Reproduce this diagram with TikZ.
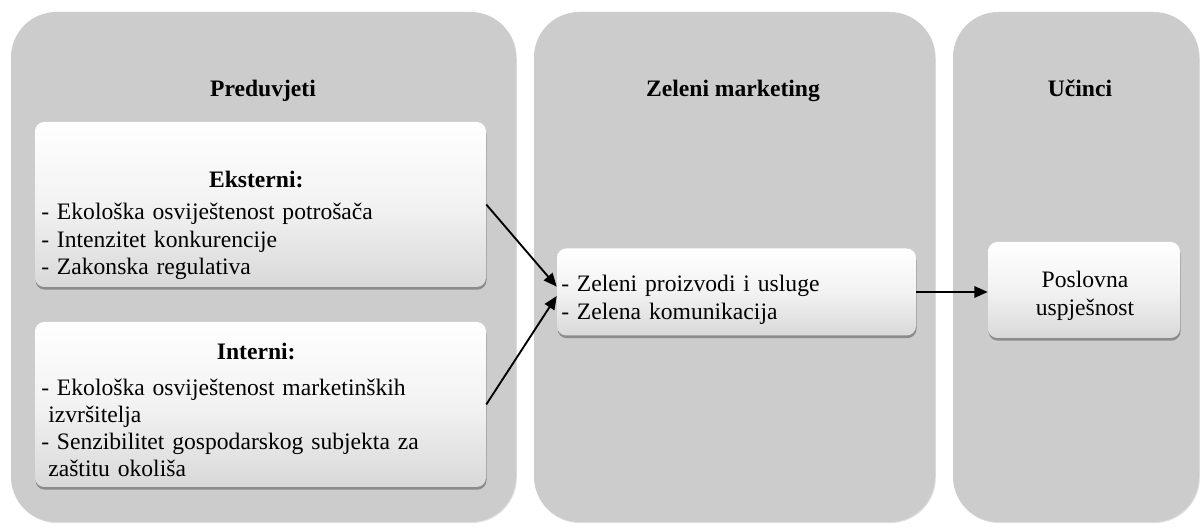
\documentclass[tikz,border=0pt]{standalone}
\usepackage{fontspec}
\setmainfont{Liberation Serif}
\usetikzlibrary{arrows.meta,shadows}

\definecolor{panelgray}{HTML}{CCCCCC}
\newcommand\pxu{0.75pt}

\begin{document}
\begin{tikzpicture}[x=0.75pt,y=-0.75pt,
  font=\fontsize{17.7}{20.4}\selectfont,
  panel/.style={fill=panelgray,rounded corners=34pt,
    drop shadow={shadow xshift=.6pt,shadow yshift=-.8pt,fill=black!50,opacity=.25}},
  box/.style={rectangle,rounded corners=7pt,inner sep=0pt,
    top color=white,bottom color=black!15,middle color=white!95!black,
    drop shadow={shadow xshift=.4pt,shadow yshift=-2pt,fill=black!70,opacity=.5}},
  title/.style={anchor=base,font=\fontsize{17.7}{20.4}\selectfont\bfseries},
  txt/.style={anchor=base west,inner sep=0pt,align=left,text width=430*\pxu},
  conn/.style={-{Triangle[length=10pt,width=8.5pt]},line width=1.4pt}]
  \useasboundingbox (0,0) rectangle (1203,530);

  % columns
  \foreach \a/\b in {11/516,534/935,953/1199}
    \fill[panel] (\a,12) rectangle (\b,522);

  \node[title] (t1) at (263,97) {Preduvjeti};
  \node[title] (t2) at (733,97) {Zeleni marketing};
  \node[title] (t3) at (1080,97) {Učinci};

  % preduvjeti
  \node[box,minimum width=451*\pxu,minimum height=165*\pxu] (ekst) at (260.5,204.5) {};
  \node[box,minimum width=451*\pxu,minimum height=165*\pxu] (inte) at (260.5,404.5) {};
  \node[txt] (ekst-t) at (41,188) {\centering\textbf{Eksterni:}\par\vspace{3.6pt}
    \raggedright - Ekološka osviještenost potrošača\\- Intenzitet konkurencije\\- Zakonska regulativa};
  \node[txt] (inte-t) at (41,360) {\centering\textbf{Interni:}\par\vspace{5.9pt}
    \raggedright - Ekološka osviještenost marketinških\\\hspace*{.3em}izvršitelja\\- Senzibilitet gospodarskog subjekta za\\\hspace*{.3em}zaštitu okoliša};

  % zeleni marketing, ucinci
  \node[box,minimum width=359*\pxu,minimum height=87*\pxu] (zel) at (736.5,292) {};
  \node[box,minimum width=192*\pxu,minimum height=96*\pxu] (posl) at (1084,290) {};
  \node[txt,text width=350*\pxu] (zel-t) at (561,292) {- Zeleni proizvodi i usluge\\- Zelena komunikacija};
  \node[txt,anchor=base,text width=180*\pxu,align=center] (posl-t) at (1085,288) {Poslovna\\uspješnost};

  \draw[conn] (ekst.east) -- ([yshift=4pt]zel.west);
  \draw[conn] (inte.east) -- ([yshift=-3pt]zel.west);
  \draw[conn] (zel.east) -- (zel.east -| posl.west);
\end{tikzpicture}
\end{document}
